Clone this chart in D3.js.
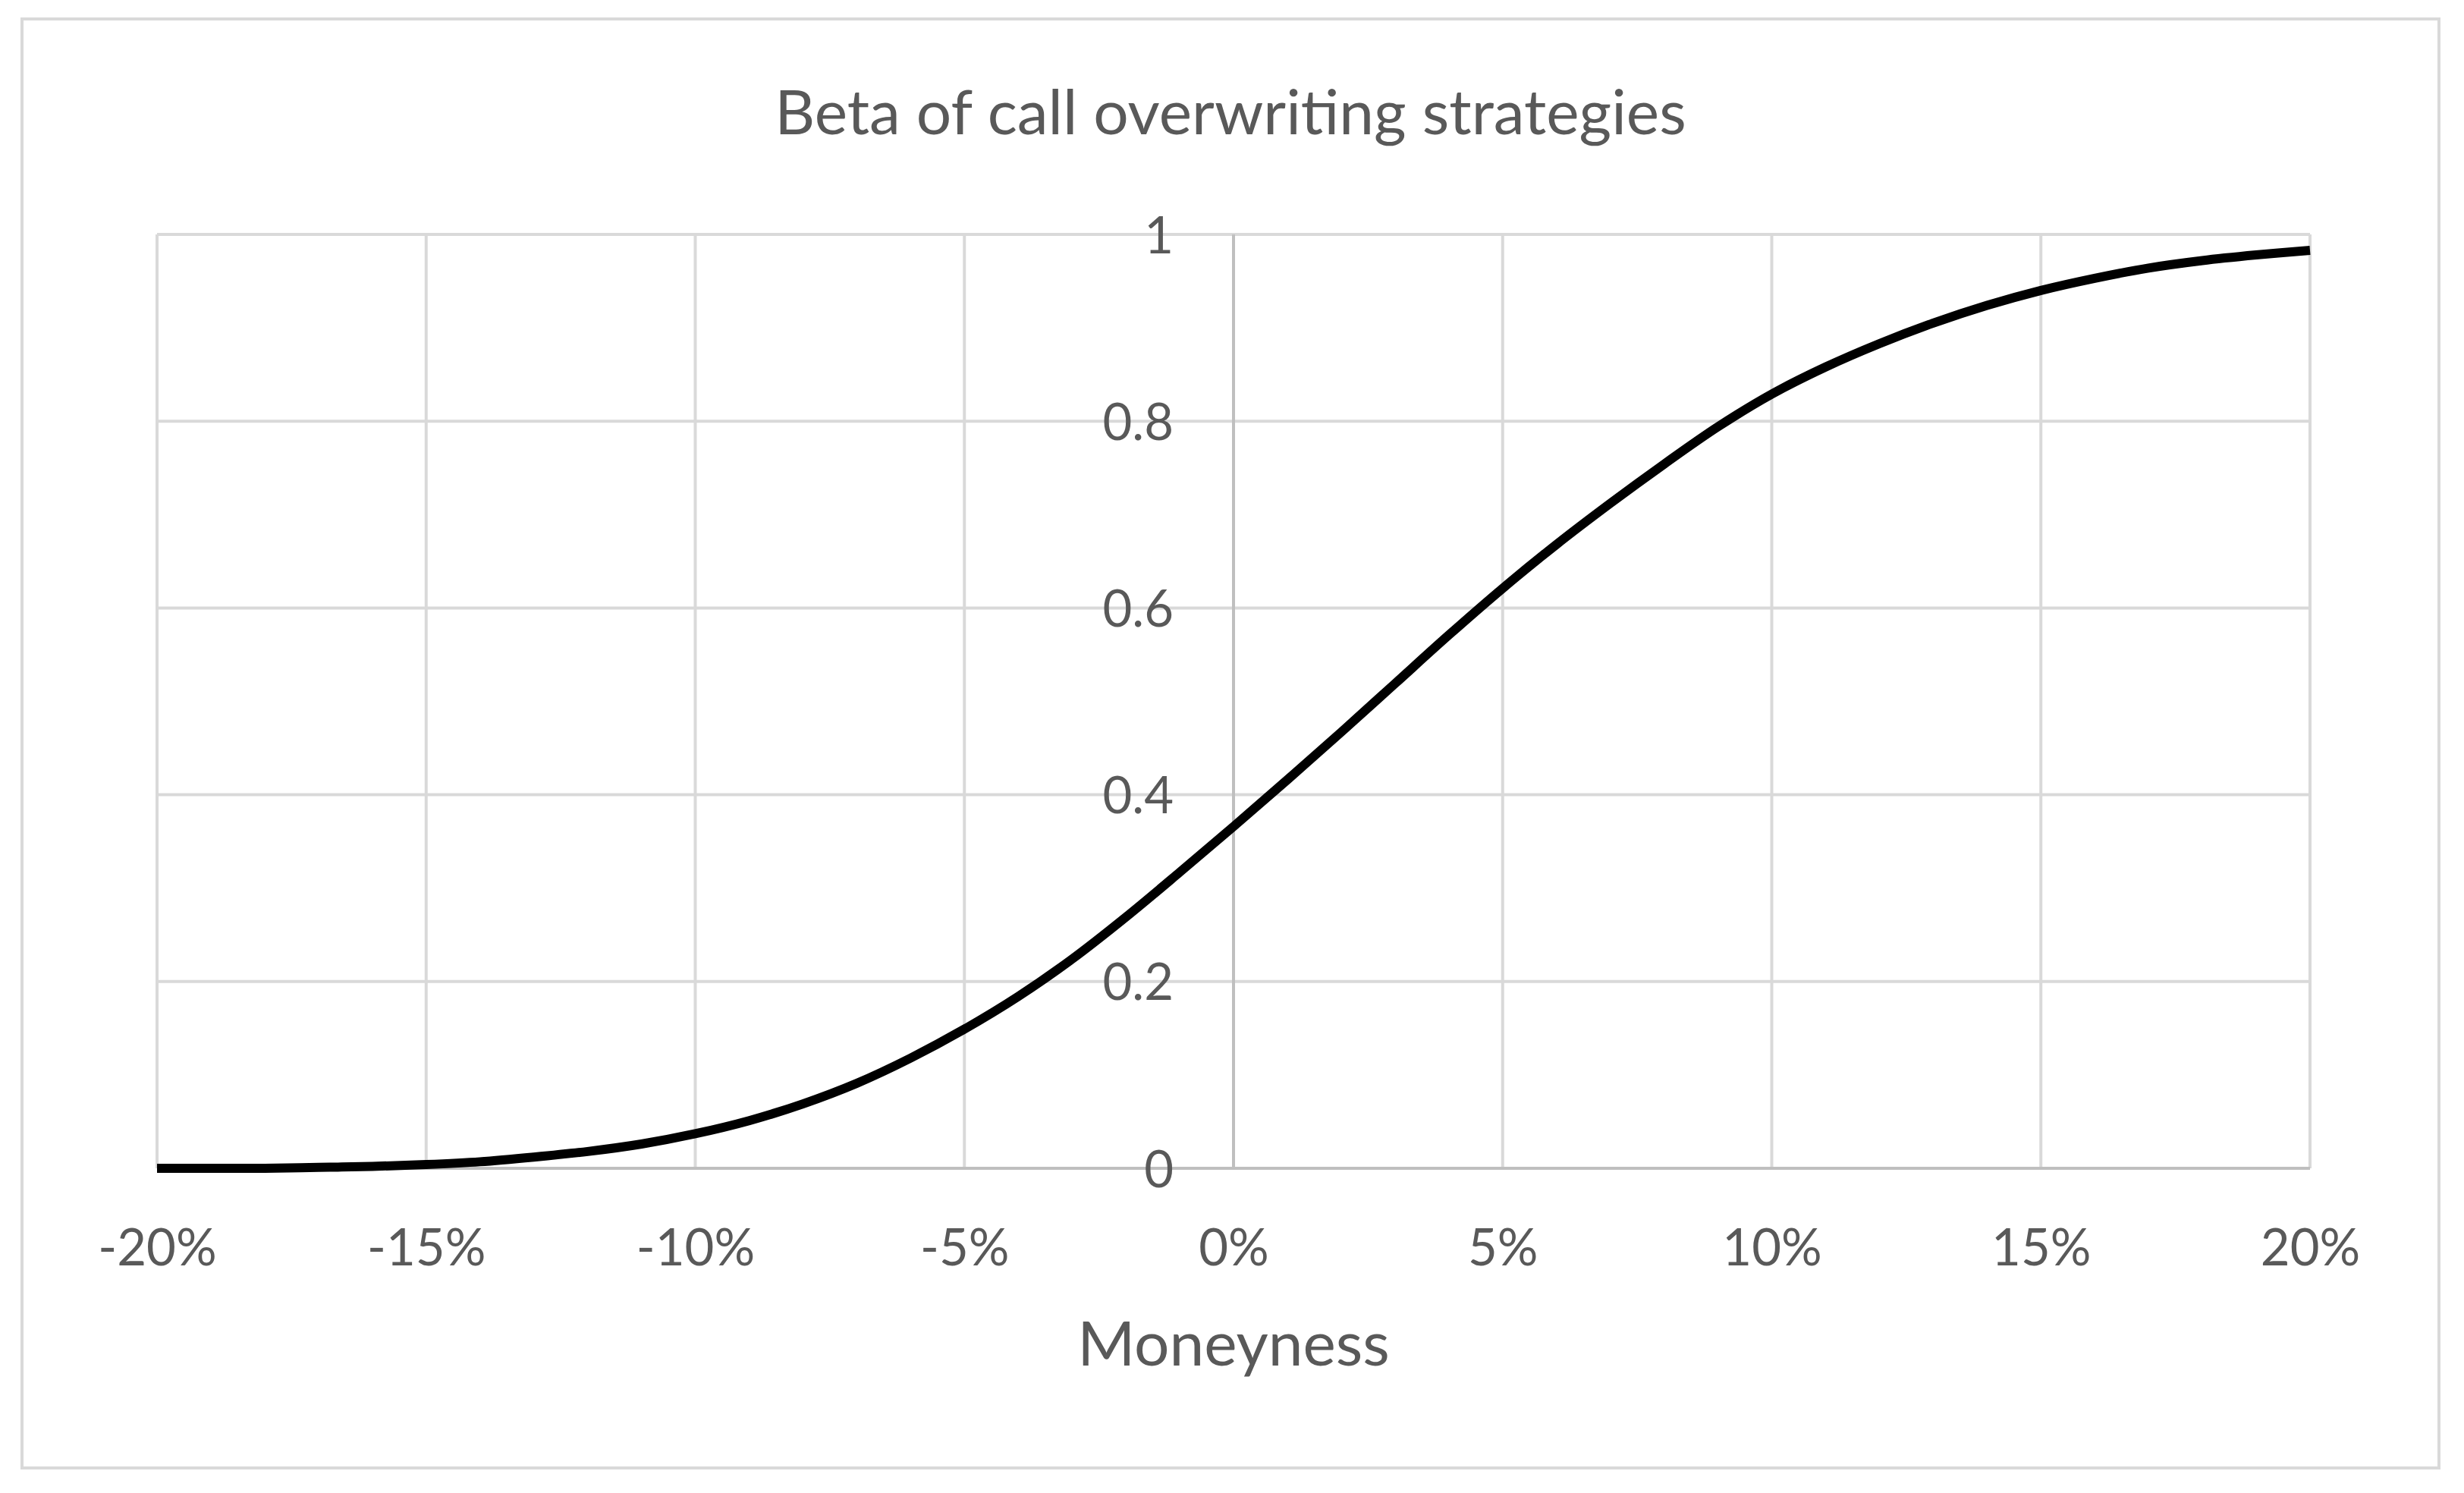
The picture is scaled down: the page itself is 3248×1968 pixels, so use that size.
<!DOCTYPE html>
<html>
<head>
<meta charset="utf-8">
<title>Beta of call overwriting strategies</title>
<script src="https://cdn.jsdelivr.net/npm/d3@7"></script>
<style>
  body { margin: 0; background: #fff; }
  text { font-family: Lato, "Open Sans", sans-serif; fill: #595959; }
</style>
</head>
<body>
<div id="chart"></div>
<script>
// moneyness in percent, one point per 1%
const moneyness = d3.range(-20, 21);
// beta, -20% .. 20%
const beta = [
  0.000, 0.000, 0.000, 0.001, 0.002, 0.004, 0.007, 0.012, 0.018, 0.026,
  0.037, 0.051, 0.069, 0.091, 0.118, 0.149, 0.184, 0.224, 0.269, 0.317,
  0.366, 0.416, 0.467, 0.519, 0.571, 0.621, 0.668, 0.712, 0.754, 0.794,
  0.829, 0.858, 0.883, 0.905, 0.924, 0.940, 0.953, 0.964, 0.972, 0.978,
  0.983
];
const xTicks = [-20, -15, -10, -5, 0, 5, 10, 15, 20];
const yTicks = [0, 0.2, 0.4, 0.6, 0.8, 1];

const title = "Beta of call overwriting strategies";
const xTitle = "Moneyness";

const W = 3248, H = 1968;
const plot = { left: 207, right: 3045, top: 309, bottom: 1540 };

const svg = d3.select("#chart").append("svg")
    .attr("width", W)
    .attr("height", H);

svg.append("rect")
    .attr("width", W).attr("height", H)
    .attr("fill", "#fff");

// chart area border
svg.append("rect")
    .attr("x", 29).attr("y", 25)
    .attr("width", 3186).attr("height", 1910)
    .attr("fill", "none")
    .attr("stroke", "#d9d9d9")
    .attr("stroke-width", 4);

const x = d3.scaleLinear().domain([-20, 20]).range([plot.left, plot.right]);
const y = d3.scaleLinear().domain([0, 1]).range([plot.bottom, plot.top]);

// gridlines
svg.append("g")
    .selectAll("line")
    .data(xTicks.filter(d => d !== 0))
    .enter().append("line")
    .attr("x1", d => x(d)).attr("x2", d => x(d))
    .attr("y1", y(0)).attr("y2", y(1))
    .attr("stroke", "#d9d9d9")
    .attr("stroke-width", 4);

svg.append("g")
    .selectAll("line")
    .data(yTicks.filter(d => d !== 0))
    .enter().append("line")
    .attr("x1", x(-20)).attr("x2", x(20))
    .attr("y1", d => y(d)).attr("y2", d => y(d))
    .attr("stroke", "#d9d9d9")
    .attr("stroke-width", 4);

// axis lines cross at 0% / 0
svg.append("line")
    .attr("x1", x(-20)).attr("x2", x(20))
    .attr("y1", y(0)).attr("y2", y(0))
    .attr("stroke", "#bfbfbf")
    .attr("stroke-width", 4);

svg.append("line")
    .attr("x1", x(0)).attr("x2", x(0))
    .attr("y1", y(0)).attr("y2", y(1))
    .attr("stroke", "#bfbfbf")
    .attr("stroke-width", 4);

// tick labels
const xAxis = svg.append("g")
    .attr("transform", `translate(0,${y(0)})`)
    .call(d3.axisBottom(x)
        .tickValues(xTicks)
        .tickFormat(d => d + "%")
        .tickSize(0)
        .tickPadding(80));

const yAxis = svg.append("g")
    .attr("transform", `translate(${x(0)},0)`)
    .call(d3.axisLeft(y)
        .tickValues(yTicks)
        .tickFormat(d3.format("~g"))
        .tickSize(0)
        .tickPadding(79));

[xAxis, yAxis].forEach(g => {
    g.select(".domain").remove();
    g.selectAll("text")
        .attr("fill", "#595959")
        .style("font-size", "67px");
});
yAxis.selectAll("text").attr("dy", "0.36em");

// the curve
const line = d3.line()
    .x((d, i) => x(moneyness[i]))
    .y(d => y(d))
    .curve(d3.curveCatmullRom);

svg.append("path")
    .datum(beta)
    .attr("d", line)
    .attr("fill", "none")
    .attr("stroke", "#000")
    .attr("stroke-width", 12)
    .attr("stroke-linejoin", "round");

// titles
svg.append("text")
    .attr("x", 1622)
    .attr("y", 177)
    .attr("text-anchor", "middle")
    .style("font-size", "82px")
    .text(title);

svg.append("text")
    .attr("x", x(0))
    .attr("y", 1800)
    .attr("text-anchor", "middle")
    .style("font-size", "82px")
    .text(xTitle);
</script>
</body>
</html>
